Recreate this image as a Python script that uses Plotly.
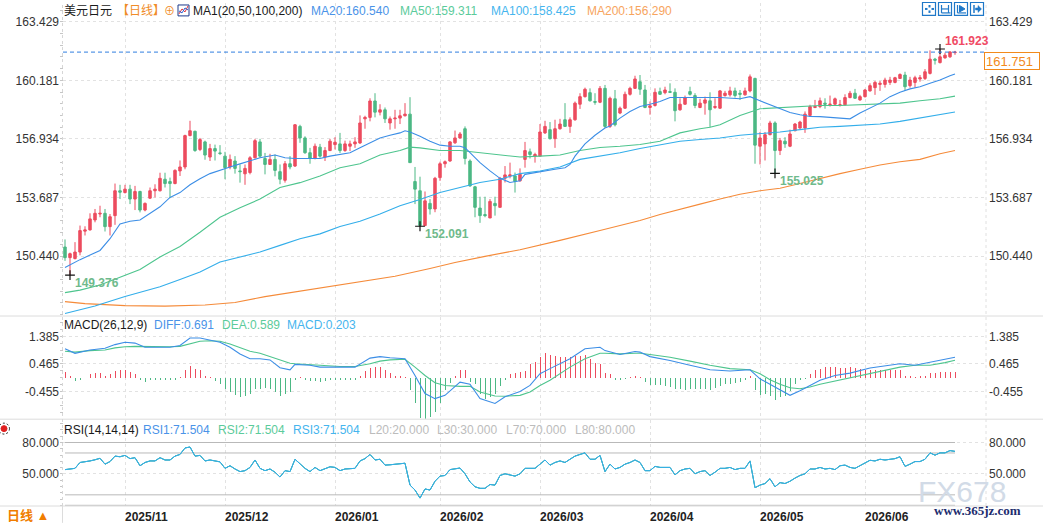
import numpy as np
import pandas as pd
import plotly.graph_objects as go

# ---------------- data ----------------
holidays = ["2025-12-25", "2026-01-01"]
trading_days = [d for d in pd.bdate_range("2025-10-16", "2026-06-25")
                if d.strftime("%Y-%m-%d") not in holidays]

open_ = [150.94,150.35,150.30,150.66,151.82,151.89,152.44,152.77,152.81,152.07,
         152.68,154.06,153.96,154.15,153.60,154.02,152.99,153.65,154.06,154.06,
         154.70,154.57,154.46,155.16,155.38,157.12,157.36,156.35,156.77,155.93,
         156.40,156.16,155.98,155.38,155.71,155.16,155.00,155.07,155.89,156.77,
         155.85,155.52,155.80,155.12,154.64,155.56,155.43,157.63,156.99,156.17,
         155.85,156.48,155.93,156.29,156.62,156.66,156.29,156.53,156.66,156.71,
         158.05,158.13,159.04,158.42,158.55,157.82,158.05,158.09,158.22,158.31,
         154.57,154.06,152.13,153.36,153.05,154.79,155.56,155.71,156.72,156.99,
         157.50,155.71,154.28,153.10,152.74,152.55,153.36,153.14,154.75,154.88,
         154.88,154.61,155.80,156.22,155.98,155.98,157.27,157.45,156.95,157.50,
         158.00,157.63,158.00,158.86,159.28,159.50,159.01,158.97,159.74,157.63,
         159.16,158.37,158.64,159.41,159.74,160.11,159.65,158.68,158.79,159.56,
         159.50,159.56,159.52,158.55,158.86,159.56,159.34,158.68,158.92,159.05,
         158.68,158.64,159.34,159.38,159.60,159.47,159.38,159.60,160.29,156.53,
         156.66,157.17,157.82,156.29,156.81,156.53,157.39,157.54,157.54,158.24,
         158.68,158.73,158.92,158.83,158.86,158.79,158.83,159.23,159.47,159.10,
         159.28,159.60,159.78,159.96,159.96,160.07,160.07,160.29,160.48,159.89,
         160.07,160.26,160.29,160.57,161.36,161.17,161.43,161.49,161.72]
high = [151.36,150.63,151.21,152.13,152.09,152.81,153.05,153.23,153.05,152.77,
        154.46,154.39,154.39,154.39,154.33,154.06,153.41,154.24,154.42,155.06,
        155.06,154.79,155.25,155.74,157.17,157.94,157.39,156.99,156.84,156.66,
        156.62,156.59,156.22,156.07,155.98,155.52,155.52,155.98,156.94,156.94,
        156.16,156.11,156.07,155.52,155.71,155.98,157.76,157.72,157.08,156.44,
        156.68,156.66,156.48,156.94,157.03,157.27,156.84,156.84,157.03,158.24,
        158.22,159.19,159.47,158.86,158.68,158.18,158.55,158.55,158.92,159.25,
        155.38,154.84,154.02,153.60,154.83,155.67,155.74,156.81,157.40,157.32,
        157.63,155.80,154.33,153.73,153.73,153.60,153.73,154.83,155.43,155.62,
        155.07,155.30,156.77,156.40,156.17,157.76,157.94,157.87,158.00,158.05,
        158.92,158.13,159.01,159.47,159.78,159.74,159.47,159.87,159.93,159.28,
        159.65,158.73,159.56,159.83,160.44,160.48,159.93,159.01,159.74,159.78,
        159.83,160.02,159.74,159.19,159.34,159.83,159.47,159.16,159.28,159.52,
        159.19,159.65,159.60,159.83,159.78,159.65,159.78,160.51,160.33,157.32,
        157.32,157.94,157.91,156.99,157.03,157.45,157.82,157.94,158.46,158.83,
        159.10,159.23,159.19,159.34,159.23,159.10,159.41,159.60,159.71,159.38,
        159.71,160.02,160.15,160.15,160.33,160.38,160.38,160.57,160.66,160.38,
        160.44,160.48,160.81,161.85,161.43,161.923,161.72,161.80,161.82]
low = [150.17,149.376,150.25,150.48,151.58,151.85,152.31,152.59,151.80,151.58,
       152.17,153.60,153.91,153.32,152.99,152.86,152.92,153.60,153.69,154.02,
       154.24,153.65,154.42,154.88,155.25,157.08,156.22,156.26,155.78,155.71,
       155.74,156.04,154.70,155.25,155.01,154.51,154.39,154.97,155.85,155.89,
       154.97,155.49,154.86,154.42,154.51,155.25,155.38,156.72,156.11,155.56,
       155.80,155.89,155.71,156.26,156.35,156.16,156.22,156.26,156.44,156.66,
       157.50,157.91,158.13,158.24,157.82,157.45,157.50,157.76,158.18,155.62,
       153.32,152.091,152.10,152.74,152.87,154.61,155.34,155.67,156.66,156.95,
       155.52,154.28,152.59,152.28,152.59,152.55,152.68,153.14,154.52,154.75,
       153.96,154.57,155.34,155.85,155.62,155.98,157.21,156.90,156.44,157.45,
       157.63,157.27,157.94,158.60,159.23,159.01,158.83,158.92,157.54,157.54,
       157.63,158.31,158.60,159.34,159.71,159.38,158.64,158.28,158.73,159.38,
       159.41,159.48,157.91,158.50,158.83,159.34,158.64,158.64,158.28,157.58,
       158.60,158.60,159.28,159.28,159.23,159.10,159.34,159.52,155.56,155.52,
       155.74,157.14,155.025,156.04,156.44,156.48,157.36,157.50,157.27,158.18,
       158.64,158.64,158.61,158.73,158.83,158.73,158.79,159.19,159.16,159.05,
       159.23,159.56,159.38,159.60,159.78,159.93,160.02,160.26,159.60,159.78,
       159.78,160.11,160.20,160.51,161.06,161.12,161.39,161.43,161.60]
close = [150.35,150.57,150.66,151.85,151.89,152.50,152.81,152.81,152.07,152.62,
         154.06,153.98,154.15,153.60,154.02,152.99,153.36,154.06,154.15,154.75,
         154.46,154.46,155.19,155.38,157.12,157.39,156.29,156.90,156.04,156.40,
         156.26,156.13,155.34,155.80,155.30,155.12,155.30,155.89,156.84,155.98,
         155.52,155.80,155.19,154.70,155.56,155.38,157.72,156.99,156.17,155.85,
         156.53,155.98,156.29,156.81,156.75,156.29,156.66,156.66,156.77,157.82,
         158.13,159.04,158.42,158.55,158.05,158.05,158.09,158.22,158.31,155.62,
         154.15,152.13,153.50,153.05,154.75,155.56,155.67,156.77,156.99,157.21,
         155.85,154.33,153.14,152.68,152.68,153.47,153.23,154.75,154.94,154.94,
         154.57,154.97,156.29,156.07,156.07,157.32,157.63,156.95,157.50,157.76,
         157.63,158.00,158.92,159.28,159.69,159.05,158.97,159.74,157.63,159.19,
         157.72,158.64,159.41,159.74,160.26,159.69,158.68,158.77,159.52,159.41,
         159.65,159.52,158.50,158.86,159.23,159.41,158.79,158.92,159.10,158.55,
         158.73,159.60,159.47,159.60,159.34,159.41,159.60,160.38,156.59,156.99,
         157.17,157.82,156.29,156.84,156.66,157.21,157.76,157.87,158.31,158.73,
         158.73,159.05,158.86,158.86,159.16,158.83,159.23,159.47,159.19,159.28,
         159.65,159.89,160.07,160.02,160.20,160.20,160.33,160.51,159.83,160.20,
         160.33,160.33,160.66,161.36,161.30,161.49,161.58,161.76,161.751]

# moving averages, read at sampled bars
ma20_x = [0,3,7,9,11,13,15,17,19,21,23,25,27,29,31,33,35,37,39,42,44,46,48,51,53,55,57,59,61,63,
          65,67,68,69,71,73,75,77,79,80,81,83,85,87,89,91,92,94,96,98,100,101,102,104,106,108,109,
          111,113,115,117,119,121,123,127,131,135,137,139,141,143,145,147,149,151,153,155,157,159,
          161,163,165,167,169,171,173,175,177,178]
ma20_y = [149.80,150.24,150.75,151.40,152.22,152.37,152.44,152.81,153.17,153.69,153.96,154.39,
          154.73,155.01,155.21,155.38,155.55,155.70,155.89,156.04,155.89,155.85,155.85,155.85,
          155.98,156.07,156.17,156.44,156.72,156.99,157.14,157.27,157.39,157.32,157.08,156.81,
          156.59,156.53,156.53,156.44,156.17,155.62,155.16,154.75,154.52,154.61,154.97,155.07,
          155.19,155.25,155.34,155.52,155.98,156.66,157.14,157.54,157.65,158.09,158.46,158.73,
          158.86,159.01,159.23,159.23,159.23,159.23,159.16,159.28,159.05,158.83,158.61,158.40,
          158.28,158.18,158.17,158.13,158.09,158.05,158.37,158.64,158.92,159.28,159.52,159.71,
          159.83,160.02,160.20,160.44,160.540]
ma50_x = [0,3,7,11,15,19,23,27,31,35,39,43,47,51,55,59,63,67,69,71,75,79,83,87,91,95,99,103,107,
          111,115,119,123,127,129,131,135,139,143,147,151,155,159,163,167,171,175,178]
ma50_y = [148.41,148.55,148.83,149.25,149.69,150.39,150.97,151.76,152.59,153.12,153.60,154.24,
          154.51,154.88,155.34,155.56,156.04,156.29,156.48,156.44,156.29,156.29,156.17,156.04,
          155.93,155.98,156.04,156.29,156.46,156.53,156.63,156.81,157.27,157.50,157.58,157.72,
          158.24,158.61,158.68,158.73,158.79,158.79,158.83,158.86,158.92,159.05,159.16,159.311]
ma100_x = [0,6,12,19,23,27,31,35,39,43,47,51,55,59,63,67,71,75,79,83,87,91,95,99,103,107,111,115,
           119,123,127,131,135,139,143,147,151,155,159,163,167,171,175,178]
ma100_y = [147.25,147.67,148.19,148.74,149.14,149.56,150.11,150.39,150.66,151.03,151.40,151.67,
           152.08,152.37,152.77,153.23,153.57,153.96,154.24,154.52,154.70,155.01,155.16,155.38,
           155.80,155.98,156.17,156.40,156.59,156.81,156.90,156.99,157.14,157.21,157.32,157.45,
           157.58,157.63,157.69,157.76,157.91,158.09,158.28,158.425]
ma200_x = [0,4,12,20,28,34,40,50,60,66,73,78,84,91,99,104,107,111,115,119,123,127,131,135,139,143,
           147,151,155,159,163,167,171,175,178]
ma200_y = [147.91,147.80,147.69,147.66,147.72,147.86,148.19,148.62,149.08,149.32,149.75,150.08,
           150.42,150.79,151.31,151.67,151.86,152.13,152.41,152.74,153.05,153.32,153.60,153.87,
           154.06,154.20,154.46,154.75,155.01,155.25,155.49,155.67,155.80,156.11,156.290]

# MACD(26,12,9)
macd_x = [0,2,5,8,10,12,14,16,19,21,23,25,27,29,31,33,35,37,39,41,43,45,46,49,51,55,58,61,63,65,
          68,70,72,74,76,79,81,83,86,88,91,93,95,97,99,101,104,107,108,111,114,115,117,121,125,129,
          133,137,139,141,143,145,147,149,151,154,157,161,165,167,170,173,176,178]
diff_y = [0.97,0.82,0.93,0.99,1.11,1.19,1.16,1.02,1.02,1.02,1.08,1.33,1.33,1.26,1.19,1.02,0.80,
          0.64,0.64,0.60,0.34,0.27,0.45,0.42,0.36,0.36,0.36,0.66,0.71,0.67,0.64,0.08,-0.52,-0.69,
          -0.58,-0.14,-0.21,-0.69,-0.85,-0.63,-0.45,-0.25,0.14,0.31,0.47,0.64,0.97,1.02,0.91,0.78,
          0.88,0.86,0.71,0.58,0.42,0.27,0.23,0.27,-0.03,-0.21,-0.41,-0.58,-0.43,-0.25,-0.08,0.08,
          0.16,0.33,0.42,0.47,0.42,0.53,0.62,0.691]
dea_y = [0.89,0.86,0.91,0.93,1.00,1.04,1.05,1.04,1.04,1.04,1.05,1.13,1.22,1.24,1.22,1.13,1.00,
         0.89,0.82,0.71,0.58,0.49,0.47,0.45,0.42,0.38,0.38,0.47,0.56,0.60,0.62,0.36,0.08,-0.16,
         -0.25,-0.28,-0.28,-0.47,-0.60,-0.61,-0.58,-0.47,-0.25,-0.08,0.14,0.36,0.64,0.82,0.82,0.80,
         0.82,0.82,0.78,0.69,0.56,0.42,0.31,0.27,0.14,-0.06,-0.21,-0.33,-0.36,-0.30,-0.21,-0.10,
         0.01,0.16,0.31,0.36,0.42,0.42,0.51,0.589]
macd_hist = [0.19,0.05,-0.10,-0.06,0.01,0.12,0.16,0.16,0.06,0.12,
             0.23,0.25,0.27,0.19,0.14,-0.06,-0.14,-0.08,-0.08,-0.08,
             -0.08,-0.06,-0.06,0.03,0.27,0.39,0.30,0.27,0.08,0.03,
             -0.10,-0.21,-0.36,-0.47,-0.58,-0.63,-0.61,-0.52,-0.36,-0.36,
             -0.32,-0.36,-0.47,-0.61,-0.52,-0.47,-0.08,0.03,-0.08,-0.10,
             -0.10,-0.14,-0.10,-0.08,-0.08,-0.08,-0.08,-0.06,-0.06,0.08,
             0.23,0.34,0.36,0.36,0.25,0.16,0.08,0.05,0.03,-0.41,
             -0.83,-1.35,-1.38,-1.31,-1.13,-0.83,-0.39,-0.17,0.08,0.25,
             0.25,-0.14,-0.21,-0.52,-0.69,-0.63,-0.52,-0.28,-0.06,0.12,
             0.16,0.20,0.23,0.47,0.52,0.71,0.82,0.78,0.74,0.71,
             0.69,0.71,0.74,0.74,0.78,0.64,0.49,0.47,0.16,0.14,
             -0.06,-0.06,-0.03,0.03,0.06,0.03,-0.14,-0.25,-0.25,-0.25,
             -0.28,-0.30,-0.36,-0.36,-0.39,-0.36,-0.36,-0.36,-0.36,-0.39,
             -0.32,-0.28,-0.21,-0.19,-0.17,-0.14,-0.08,0.08,-0.39,-0.58,
             -0.52,-0.61,-0.72,-0.63,-0.61,-0.43,-0.21,-0.08,-0.03,0.12,
             0.27,0.30,0.36,0.38,0.38,0.34,0.34,0.36,0.34,0.30,
             0.27,0.27,0.27,0.27,0.25,0.25,0.25,0.25,0.08,0.05,
             0.03,0.05,0.08,0.16,0.16,0.19,0.19,0.19,0.203]

# RSI(14,14,14) - the three lines coincide
rsi = [54.1,54.5,55.3,60.9,61.5,62.4,63.5,64.9,59.3,61.8,
       67.0,66.4,67.7,64.6,65.5,57.8,60.9,62.4,62.4,65.5,
       63.3,63.3,67.0,68.6,74.8,75.7,67.0,67.7,62.4,63.3,
       62.4,61.5,55.3,57.8,54.7,52.2,53.1,56.2,63.3,55.3,
       53.1,54.7,51.6,47.0,53.1,52.2,64.0,59.3,55.3,52.2,
       56.2,53.1,55.3,56.8,56.2,53.1,54.7,55.3,55.3,62.4,
       64.6,68.6,63.3,64.0,58.4,58.7,59.3,60.2,60.2,39.3,
       34.6,26.9,35.6,34.6,43.0,47.9,48.5,54.1,54.7,55.6,
       50.1,42.3,37.7,36.2,36.2,39.9,39.3,48.5,50.1,49.1,
       47.9,50.1,55.3,55.3,55.3,59.3,63.3,58.4,60.9,62.4,
       60.9,64.0,67.0,68.6,70.1,64.0,64.0,67.7,52.2,59.3,
       54.7,56.2,59.3,60.9,63.3,60.9,53.1,53.1,57.2,56.2,
       56.2,56.2,49.1,53.1,54.7,55.3,50.1,52.2,53.1,48.5,
       51.6,55.3,55.3,56.2,54.1,55.3,55.3,62.4,36.8,39.3,
       40.8,45.4,37.7,41.7,40.8,43.0,46.0,48.5,50.1,54.7,
       54.7,56.2,54.7,55.3,54.1,57.8,58.4,56.2,55.3,57.8,
       60.9,63.0,62.4,64.0,63.3,64.0,64.6,66.4,57.2,59.3,
       61.8,61.8,64.0,70.1,67.9,70.1,70.1,72.3,71.504]
rsi_levels = [20, 30, 70, 80]

price_ticks = [150.440, 153.687, 156.934, 160.181, 163.429]
macd_ticks = [-0.455, 0.465, 1.385]
rsi_ticks = [50.0, 80.0]

marked_idx = [1, 71, 142, 175]
marked_kind = ["low", "low", "low", "high"]

# ---------------- derived ----------------
idx = list(range(len(close)))
dates = trading_days[:len(close)]
month_idx, month_txt = [], []
prev = None
for i, d in enumerate(dates):
    key = (d.year, d.month)
    if prev is not None and key != prev:
        month_idx.append(i)
        month_txt.append(d.strftime("%Y/%m"))
    prev = key

# ---------------- style ----------------
FONT = "Liberation Sans, Arial, Noto Sans CJK SC, sans-serif"
RED = "#ec4b5e"
GREEN = "#4cb884"
C_MA20, C_MA50, C_MA100, C_MA200 = "#3c8ee6", "#4ec58e", "#33aeea", "#f58b3a"
T_MA20, T_MA50, T_MA100, T_MA200 = "#4a93e8", "#5bcb9b", "#45b5ee", "#f7a45e"
GRID = "#e2e2e2"
W, H = 1043, 527
ML, MR, MT, MB = 63, 57, 3, 17
PW, PH = W - ML - MR, H - MT - MB


def px(x):
    return (x - ML) / PW


def py(y):
    return (H - MB - y) / PH


fig = go.Figure()

# main panel
fig.add_trace(go.Candlestick(
    x=idx, open=open_, high=high, low=low, close=close,
    increasing=dict(line=dict(color=RED, width=1), fillcolor=RED),
    decreasing=dict(line=dict(color=GREEN, width=1), fillcolor=GREEN),
    whiskerwidth=0, xaxis="x", yaxis="y", hoverinfo="skip"))
for xs, ys, col in [(ma200_x, ma200_y, C_MA200), (ma100_x, ma100_y, C_MA100),
                    (ma50_x, ma50_y, C_MA50), (ma20_x, ma20_y, C_MA20)]:
    fig.add_trace(go.Scatter(x=xs, y=ys, mode="lines", line=dict(color=col, width=1.1),
                             xaxis="x", yaxis="y", hoverinfo="skip"))
mk_x = marked_idx
mk_y = [low[i] if k == "low" else high[i] for i, k in zip(marked_idx, marked_kind)]
fig.add_trace(go.Scatter(x=mk_x, y=mk_y, mode="markers",
                         marker=dict(symbol="cross-thin", size=7, line=dict(color="#111", width=1.2)),
                         xaxis="x", yaxis="y", hoverinfo="skip"))

# MACD panel
fig.add_trace(go.Bar(x=idx, y=macd_hist, width=0.2,
                     marker=dict(color=[RED if v >= 0 else GREEN for v in macd_hist], line=dict(width=0)),
                     xaxis="x2", yaxis="y2", hoverinfo="skip"))
fig.add_trace(go.Scatter(x=macd_x, y=dea_y, mode="lines", line=dict(color=C_MA50, width=1.1),
                         xaxis="x2", yaxis="y2", hoverinfo="skip"))
fig.add_trace(go.Scatter(x=macd_x, y=diff_y, mode="lines", line=dict(color=C_MA20, width=1.1),
                         xaxis="x2", yaxis="y2", hoverinfo="skip"))

# RSI panel
for lv in rsi_levels:
    fig.add_trace(go.Scatter(x=[idx[0], idx[-1]], y=[lv, lv], mode="lines",
                             line=dict(color="#b9b9b9", width=1), xaxis="x3", yaxis="y3", hoverinfo="skip"))
for col in [C_MA20, C_MA50, C_MA100]:
    fig.add_trace(go.Scatter(x=idx, y=rsi, mode="lines", line=dict(color=col, width=1),
                             xaxis="x3", yaxis="y3", hoverinfo="skip"))

# invisible traces so the left-side label axes are created
for ya, xa in [("y4", "x"), ("y5", "x2"), ("y6", "x3")]:
    fig.add_trace(go.Scatter(x=[None], y=[None], mode="lines", xaxis=xa, yaxis=ya, hoverinfo="skip"))

# ---------------- axes ----------------
main_dom = [py(318), py(3)]
macd_dom = [py(422), py(319)]
rsi_dom = [0.0, py(423)]
main_rng = [163.429 - (318 - 22) * 0.05503, 163.429 + (22 - 3) * 0.05503]
macd_rng = [1.385 - (422 - 339) * 0.03305, 1.385 + (339 - 319) * 0.03305]
rsi_rng = [80 - (510 - 446) / 1.055, 80 + (446 - 423) / 1.055]

xcommon = dict(range=[(ML - 65) / 5.0, (ML + PW - 65) / 5.0], tickmode="array",
               tickvals=month_idx, ticktext=month_txt, showgrid=True, gridcolor=GRID,
               griddash="dot", gridwidth=1, zeroline=False, showline=False, ticks="",
               fixedrange=True)
ycommon = dict(showgrid=True, gridcolor=GRID, griddash="dot", zeroline=False, showline=False,
               ticks="", tickfont=dict(family=FONT, size=12, color="#333"), fixedrange=True)


def left_axis(over, rng, vals, fmt, dt, t0):
    return dict(overlaying=over, side="left", anchor="free", position=0, range=rng,
                tickmode="array", tickvals=vals, ticktext=[fmt.format(v) for v in vals],
                showgrid=False, zeroline=False, showline=False, ticks="",
                tickfont=dict(family=FONT, size=12, color="#333"), ticklabelstandoff=4,
                minor=dict(ticks="outside", ticklen=3, tickcolor="#c6c6c6", tickmode="linear",
                           dtick=dt, tick0=t0, showgrid=False), fixedrange=True)


fig.update_layout(
    width=W, height=H, margin=dict(l=ML, r=MR, t=MT, b=MB),
    paper_bgcolor="white", plot_bgcolor="white", showlegend=False, hovermode=False,
    font=dict(family=FONT, size=12, color="#333"), bargap=0,
    xaxis=dict(**xcommon, anchor="y", showticklabels=False, rangeslider=dict(visible=False)),
    xaxis2=dict(**xcommon, anchor="y2", matches="x", showticklabels=False),
    xaxis3=dict(**xcommon, anchor="y3", matches="x", showticklabels=True,
                ticklabelposition="outside right", ticklabelstandoff=2,
                tickfont=dict(family=FONT, size=12, color="#222", weight="bold")),
    yaxis=dict(**ycommon, domain=main_dom, range=main_rng, side="right", anchor="x",
               tickmode="array", tickvals=price_ticks,
               ticktext=["{:.3f}".format(v) for v in price_ticks], ticklabelstandoff=2),
    yaxis2=dict(**ycommon, domain=macd_dom, range=macd_rng, side="right", anchor="x2",
                tickmode="array", tickvals=macd_ticks,
                ticktext=["{:.3f}".format(v) for v in macd_ticks], ticklabelstandoff=2),
    yaxis3=dict(**ycommon, domain=rsi_dom, range=rsi_rng, side="right", anchor="x3",
                tickmode="array", tickvals=rsi_ticks,
                ticktext=["{:.3f}".format(v) for v in rsi_ticks], ticklabelstandoff=2),
    yaxis4=left_axis("y", main_rng, price_ticks, "{:.3f}", 0.6494, 150.440),
    yaxis5=left_axis("y2", macd_rng, macd_ticks, "{:.3f}", 0.23, 0.465),
    yaxis6=left_axis("y3", rsi_rng, rsi_ticks, "{:.3f}", 6, 50),
)

# ---------------- shapes ----------------
shapes = []
sep = "#dcdcdc"
for yy in [318.5, 422.5, 510]:
    shapes.append(dict(type="line", xref="paper", yref="paper", x0=px(0), x1=px(W),
                       y0=py(yy), y1=py(yy), line=dict(color=sep, width=1)))
shapes.append(dict(type="line", xref="paper", yref="paper", x0=px(62.5), x1=px(62.5),
                   y0=py(510), y1=py(3), line=dict(color="#d6d6d6", width=1, dash="dot")))
shapes.append(dict(type="line", xref="paper", yref="paper", x0=px(62.5), x1=px(62.5),
                   y0=py(527), y1=py(510), line=dict(color=sep, width=1)))
shapes.append(dict(type="line", xref="paper", yref="paper", x0=px(986), x1=px(986),
                   y0=py(510), y1=py(3), line=dict(color="#e0e0e0", width=1, dash="dot")))
# last price dashed line
shapes.append(dict(type="line", xref="paper", yref="y", x0=0, x1=1, y0=close[-1], y1=close[-1],
                   line=dict(color="#2f7fe0", width=1, dash="4px,3px")))
# header icon (chart glyph)
shapes.append(dict(type="rect", xref="paper", yref="paper", x0=px(178), x1=px(189),
                   y0=py(16), y1=py(5), line=dict(color="#1d3a8c", width=1), fillcolor="white"))
shapes.append(dict(type="path", xref="paper", yref="paper",
                   path="M {} {} L {} {} L {} {} L {} {}".format(px(179), py(14), px(182), py(9),
                                                               px(185), py(12), px(188), py(6)),
                   line=dict(color="#e0303a", width=1)))
shapes.append(dict(type="path", xref="paper", yref="paper",
                   path="M {} {} L {} {} L {} {} L {} {}".format(px(179), py(11), px(182), py(13),
                                                               px(185), py(8), px(188), py(10)),
                   line=dict(color="#2a5fd0", width=1)))
# toolbar icons top right
ICON = "#1f78c8"
for x0 in [922.5, 938.5, 954.5, 970.5]:
    shapes.append(dict(type="rect", xref="paper", yref="paper", x0=px(x0), x1=px(x0 + 13),
                       y0=py(15.5), y1=py(2.5), line=dict(color=ICON, width=1.2)))
# glyph 1: crosshair
for (a, b, c, d) in [(925, 9, 927.5, 9), (931.5, 9, 934, 9), (929.5, 5, 929.5, 7.5), (929.5, 10.5, 929.5, 13)]:
    shapes.append(dict(type="line", xref="paper", yref="paper", x0=px(a), x1=px(c), y0=py(b), y1=py(d),
                       line=dict(color=ICON, width=2)))
# glyph 2
for (a, b, c, d) in [(941.5, 5, 941.5, 13), (948.5, 5, 948.5, 13), (941.5, 13, 950.5, 13), (941.5, 9, 948.5, 9)]:
    shapes.append(dict(type="line", xref="paper", yref="paper", x0=px(a), x1=px(c), y0=py(b), y1=py(d),
                       line=dict(color=ICON, width=1.2)))
# glyph 3
shapes.append(dict(type="line", xref="paper", yref="paper", x0=px(957.5), x1=px(957.5), y0=py(5), y1=py(13),
                   line=dict(color=ICON, width=1.2)))
shapes.append(dict(type="line", xref="paper", yref="paper", x0=px(957.5), x1=px(966), y0=py(13), y1=py(13),
                   line=dict(color=ICON, width=1.2)))
shapes.append(dict(type="path", xref="paper", yref="paper",
                   path="M {} {} L {} {} L {} {} Z".format(px(959.5), py(5.5), px(965), py(9), px(959.5), py(12)),
                   fillcolor=ICON, line=dict(color=ICON, width=1)))
# glyph 4
shapes.append(dict(type="line", xref="paper", yref="paper", x0=px(974), x1=px(974), y0=py(5), y1=py(13),
                   line=dict(color=ICON, width=1.5)))
shapes.append(dict(type="path", xref="paper", yref="paper",
                   path="M {} {} L {} {} L {} {} L {} {} L {} {} L {} {} L {} {} Z".format(
                       px(975.5), py(8), px(978), py(8), px(978), py(5.5), px(981.5), py(9),
                       px(978), py(12.5), px(978), py(10), px(975.5), py(10)),
                   fillcolor=ICON, line=dict(color=ICON, width=0.5)))
# red indicator icon left
shapes.append(dict(type="circle", xref="paper", yref="paper", x0=px(1), x1=px(7), y0=py(435), y1=py(429),
                   fillcolor="#e02020", line=dict(color="#e02020", width=1)))
shapes.append(dict(type="circle", xref="paper", yref="paper", x0=px(-1.5), x1=px(9.5), y0=py(437.5), y1=py(426.5),
                   line=dict(color="#222", width=1, dash="2px,2px")))
fig.update_layout(shapes=shapes)

# ---------------- annotations ----------------
ann = []


def text_at(txt, x, y, color, size=12, bold=False, family=FONT, xanchor="left"):
    ann.append(dict(text=txt, xref="paper", yref="paper", x=px(x), y=py(y), xanchor=xanchor,
                    yanchor="middle", showarrow=False, borderpad=0,
                    font=dict(family=family, size=size, color=color,
                              weight="bold" if bold else "normal")))


main_header = [("美元日元", "#1a1a1a", 63), ("【日线】", "#f08c28", 116), ("⊕", "#f08c28", 163),
               ("MA1(20,50,100,200)", "#1a1a1a", 192),
               ("MA20:{:.3f}".format(ma20_y[-1]), T_MA20, 310),
               ("MA50:{:.3f}".format(ma50_y[-1]), T_MA50, 399),
               ("MA100:{:.3f}".format(ma100_y[-1]), T_MA100, 490),
               ("MA200:{:.3f}".format(ma200_y[-1]), T_MA200, 586)]
for t, c, x in main_header:
    text_at(t, x, 11.5, c, size=(11 if t == "⊕" else 12))

macd_header = [("MACD(26,12,9)", "#1a1a1a", 63), ("DIFF:{:.3f}".format(diff_y[-1]), T_MA20, 153),
               ("DEA:{:.3f}".format(dea_y[-1]), T_MA50, 221),
               ("MACD:{:.3f}".format(macd_hist[-1]), T_MA100, 286)]
for t, c, x in macd_header:
    text_at(t, x, 327.5, c)

rsi_header = [("RSI(14,14,14)", "#1a1a1a", 63), ("RSI1:{:.3f}".format(rsi[-1]), T_MA20, 142),
              ("RSI2:{:.3f}".format(rsi[-1]), T_MA50, 217), ("RSI3:{:.3f}".format(rsi[-1]), T_MA100, 292)]
for lv, x in zip(rsi_levels, [368, 436, 505, 574]):
    rsi_header.append(("L{}:{:.3f}".format(lv, lv), "#bcbcbc", x))
for t, c, x in rsi_header:
    text_at(t, x, 433, c)

# extreme labels
for i, k, v in zip(mk_x, marked_kind, mk_y):
    ann.append(dict(text="{:.3f}".format(v), xref="x", yref="y", x=i, y=v, xanchor="left",
                    yanchor="middle", xshift=4, yshift=(-8 if k == "low" else 8), showarrow=False,
                    borderpad=0,
                    font=dict(family=FONT, size=12, color=("#6fba8c" if k == "low" else "#f04a64"),
                              weight="bold")))

# last price box
ann.append(dict(text="{:.3f}".format(close[-1]), xref="paper", yref="y", x=px(984), y=close[-1],
                xanchor="left", yanchor="top", showarrow=False, align="left", width=52, height=14,
                bordercolor="#f28a1c", borderwidth=1, borderpad=1, bgcolor="white",
                font=dict(family=FONT, size=13, color="#f28a1c")))

# bottom-left period label
text_at("日线 ▲", 6, 520, "#f07d00", size=13, bold=True)

# watermark
text_at("FX678", 962, 495, "#d2dbe7", size=30, family="Liberation Sans, Arial", xanchor="center")
text_at("www.365jz.com", 977, 515, "#1c2d6e", size=13, bold=True,
        family="Liberation Serif, Times New Roman, serif", xanchor="center")

fig.update_layout(annotations=ann)

fig.write_html("out.html", config={"staticPlot": True, "displayModeBar": False},
               post_script="document.body.style.margin='0px';document.body.style.overflow='hidden';")
